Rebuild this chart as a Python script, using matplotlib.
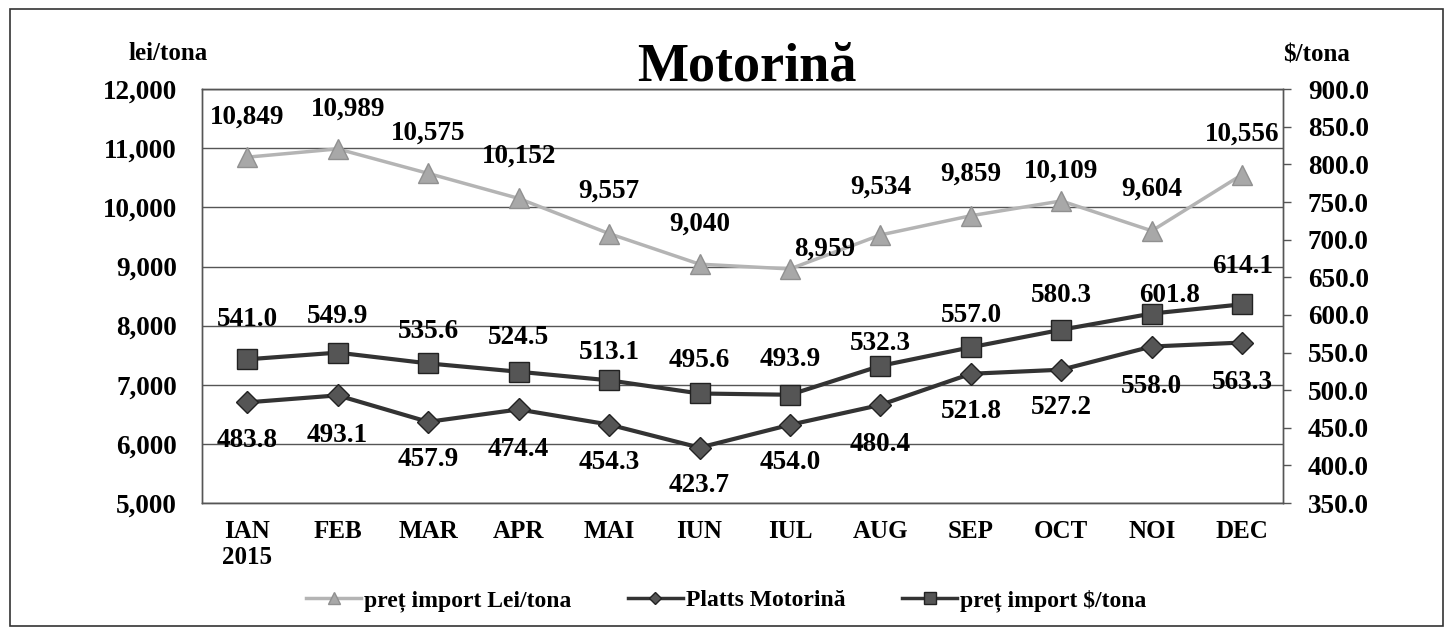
import numpy as np
import matplotlib.pyplot as plt
from matplotlib.patches import Rectangle

months = ['IAN\n2015', 'FEB', 'MAR', 'APR', 'MAI', 'IUN', 'IUL', 'AUG', 'SEP', 'OCT', 'NOI', 'DEC']
lei_tona = [10849, 10989, 10575, 10152, 9557, 9040, 8959, 9534, 9859, 10109, 9604, 10556]
platts = [483.8, 493.1, 457.9, 474.4, 454.3, 423.7, 454.0, 480.4, 521.8, 527.2, 558.0, 563.3]
usd_tona = [541.0, 549.9, 535.6, 524.5, 513.1, 495.6, 493.9, 532.3, 557.0, 580.3, 601.8, 614.1]

# label offsets in pixels (dx, dy)
lei_off = [(0, 40), (10, 40), (0, 40), (0, 42), (0, 42), (0, 40), (35, 20), (0, 48), (0, 42), (0, 30), (0, 42), (0, 40)]
usd_off = [(0, 40), (0, 36), (0, 32), (0, 34), (0, 28), (0, 33), (0, 35), (0, 22), (0, 32), (0, 34), (18, 18), (0, 38)]
pl_off = [(0, -38), (0, -40), (0, -38), (0, -40), (0, -38), (0, -38), (0, -38), (0, -40), (0, -38), (0, -38), (0, -40), (0, -40)]

plt.rcParams['font.family'] = ['Liberation Serif', 'DejaVu Serif']
plt.rcParams['font.weight'] = 'bold'

fig = plt.figure(figsize=(14.53, 6.32), dpi=100)
ax = fig.add_axes([0.139, 0.204, 0.744, 0.655])
ax2 = ax.twinx()

x = np.arange(len(months))

l1, = ax.plot(x, lei_tona, color='#b4b4b4', lw=2.5, marker='^', ms=15,
              mfc='#a8a8a8', mec='#909090', zorder=3)
l2, = ax2.plot(x, platts, color='#333333', lw=3, marker='D', ms=11,
               mfc='#555555', mec='#222222', zorder=3)
l3, = ax2.plot(x, usd_tona, color='#333333', lw=3, marker='s', ms=15,
               mfc='#555555', mec='#222222', zorder=3)

fs = 19.5
for i in range(len(x)):
    ax.annotate(f'{lei_tona[i]:,}', (x[i], lei_tona[i]), xytext=lei_off[i],
                textcoords='offset pixels', ha='center', va='center', fontsize=fs, fontweight='bold')
    ax2.annotate(f'{usd_tona[i]:.1f}', (x[i], usd_tona[i]), xytext=usd_off[i],
                 textcoords='offset pixels', ha='center', va='center', fontsize=fs, fontweight='bold')
    ax2.annotate(f'{platts[i]:.1f}', (x[i], platts[i]), xytext=pl_off[i],
                 textcoords='offset pixels', ha='center', va='center', fontsize=fs, fontweight='bold')

ax.set_xlim(-0.5, 11.45)
ax.set_ylim(5000, 12000)
ax.set_yticks(np.arange(5000, 12001, 1000))
ax.set_yticklabels([f'{v:,}' for v in range(5000, 12001, 1000)], fontsize=19.5, fontweight='bold')
ax2.set_ylim(350, 900)
ax2.set_yticks(np.arange(350, 901, 50))
ax2.set_yticklabels([f'{v:.1f}' for v in range(350, 901, 50)], fontsize=19.5, fontweight='bold')

ax.set_xticks(x)
ax.set_xticklabels(months, fontsize=18, fontweight='bold', va='top', linespacing=1.2)
ax.tick_params(axis='x', length=0, pad=12)
ax.tick_params(axis='y', length=0, pad=18)
ax2.tick_params(axis='y', length=6, width=1, color='#555555', pad=12)

ax.grid(axis='y', color='#555555', lw=1)
ax.set_axisbelow(True)
for a in (ax, ax2):
    for s in a.spines.values():
        s.set_color('#555555')
        s.set_linewidth(1)

fig.text(0.514, 0.893, 'Motorină', ha='center', va='center', fontsize=39, fontweight='bold')
fig.text(0.116, 0.915, 'lei/tona', ha='center', va='center', fontsize=18, fontweight='bold')
fig.text(0.906, 0.913, '\\$/tona', ha='center', va='center', fontsize=18, fontweight='bold')

leg = fig.legend([l1, l2, l3], ['preț import Lei/tona', 'Platts Motorină', 'preț import \\$/tona'],
                 loc='center', bbox_to_anchor=(0.500, 0.05), ncol=3, frameon=False,
                 fontsize=17, handlelength=2.3, markerscale=0.55, columnspacing=2.4, handletextpad=0.15)
for h in leg.legend_handles:
    h.set_linewidth(2.5)

fig.patches.append(Rectangle((0.007, 0.01), 0.986, 0.975, transform=fig.transFigure,
                             fill=False, edgecolor='#333333', lw=1.2))

fig.savefig('out.png', dpi=100)
